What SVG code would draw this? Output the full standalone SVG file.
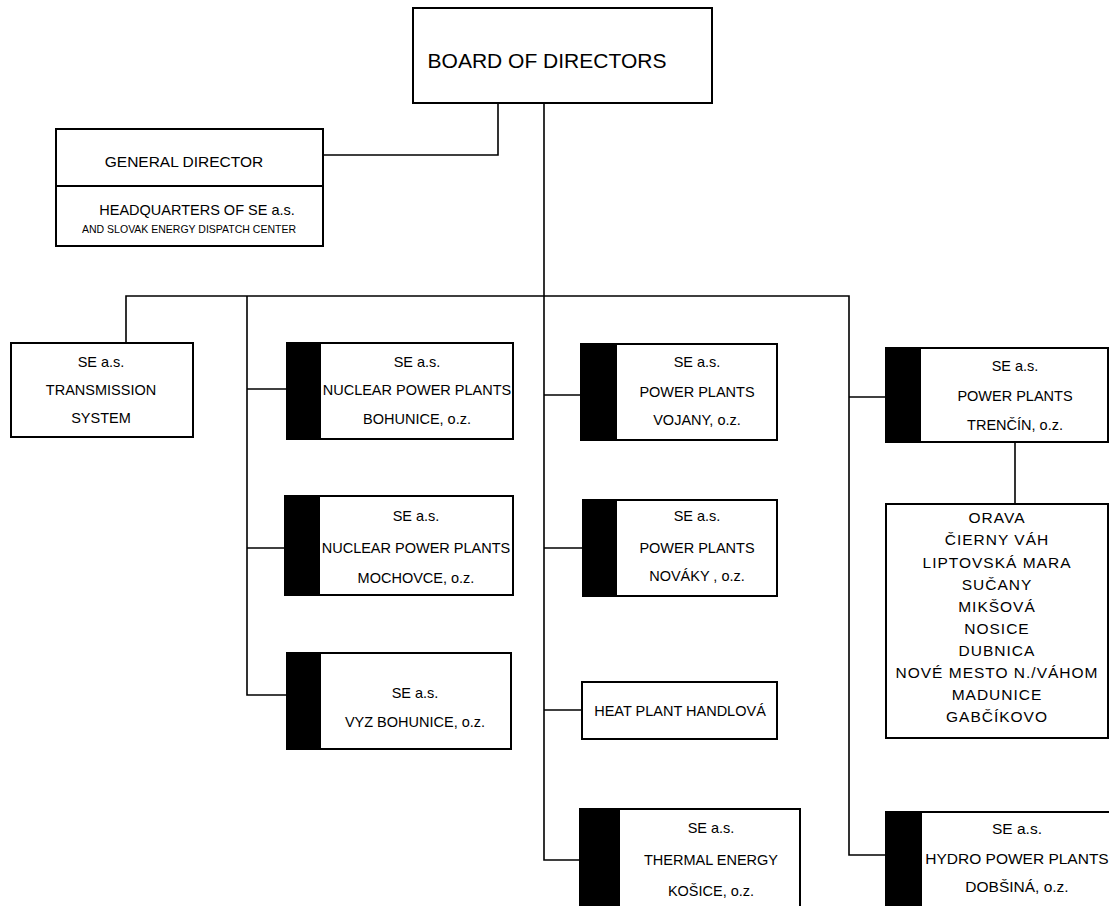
<svg xmlns="http://www.w3.org/2000/svg" width="1109" height="906" viewBox="0 0 1109 906">
<style>
.box{fill:#fff;stroke:#000;stroke-width:2}
.strip{fill:#000}
.conn{fill:none;stroke:#000;stroke-width:1.6}
text{font-family:"Liberation Sans",Arial,sans-serif;font-size:14.5px;text-anchor:middle;fill:#000}
.big{font-size:21px}
.mid{font-size:15.5px}
.small{font-size:10.5px}
.list{font-size:15.5px;letter-spacing:1px}
</style>
<rect width="1109" height="906" fill="#fff"/>
<g id="connectors">
<path class="conn" d="M498,103 V155 H323"/>
<path class="conn" d="M544,103 V860 H580"/>
<path class="conn" d="M126,343 V296 H849 V855 H886"/>
<path class="conn" d="M247,296 V695 H287"/>
<path class="conn" d="M247,389 H287"/>
<path class="conn" d="M247,548 H285"/>
<path class="conn" d="M544,395 H581"/>
<path class="conn" d="M544,548 H583"/>
<path class="conn" d="M544,710 H582"/>
<path class="conn" d="M849,397 H886"/>
<path class="conn" d="M1015,443 V504"/>
</g>
<g id="board">
<rect class="box" x="413" y="8" width="299" height="95"/>
<text class="big" x="547" y="68">BOARD OF DIRECTORS</text>
</g>
<g id="general-director">
<rect class="box" x="56" y="129" width="267" height="117"/>
<line x1="56" y1="186" x2="323" y2="186" stroke="#000" stroke-width="2"/>
<text class="mid" x="184" y="167">GENERAL DIRECTOR</text>
<text x="197" y="215">HEADQUARTERS OF SE a.s.</text>
<text class="small" x="189" y="233">AND SLOVAK ENERGY DISPATCH CENTER</text>
</g>
<g id="transmission">
<rect class="box" x="11" y="343" width="182" height="94"/>
<text x="101" y="367">SE a.s.</text>
<text x="101" y="395">TRANSMISSION</text>
<text x="101" y="423">SYSTEM</text>
</g>
<g id="bohunice">
<rect class="box" x="287" y="343" width="226" height="96"/>
<rect class="strip" x="287" y="343" width="34" height="96"/>
<text x="417" y="367">SE a.s.</text>
<text x="417" y="395">NUCLEAR POWER PLANTS</text>
<text x="417" y="424">BOHUNICE, o.z.</text>
</g>
<g id="mochovce">
<rect class="box" x="285" y="496" width="228" height="99"/>
<rect class="strip" x="285" y="496" width="35" height="99"/>
<text x="416" y="521">SE a.s.</text>
<text x="416" y="553">NUCLEAR POWER PLANTS</text>
<text x="416" y="583">MOCHOVCE, o.z.</text>
</g>
<g id="vyz">
<rect class="box" x="287" y="653" width="224" height="96"/>
<rect class="strip" x="287" y="653" width="34" height="96"/>
<text x="415" y="698">SE a.s.</text>
<text x="415" y="727">VYZ BOHUNICE, o.z.</text>
</g>
<g id="vojany">
<rect class="box" x="581" y="344" width="196" height="96"/>
<rect class="strip" x="581" y="344" width="36" height="96"/>
<text x="697" y="367">SE a.s.</text>
<text x="697" y="397">POWER PLANTS</text>
<text x="697" y="425">VOJANY, o.z.</text>
</g>
<g id="novaky">
<rect class="box" x="583" y="500" width="194" height="96"/>
<rect class="strip" x="583" y="500" width="34" height="96"/>
<text x="697" y="521">SE a.s.</text>
<text x="697" y="553">POWER PLANTS</text>
<text x="697" y="581">NOVÁKY , o.z.</text>
</g>
<g id="handlova">
<rect class="box" x="582" y="682" width="195" height="57"/>
<text x="680" y="716">HEAT PLANT HANDLOVÁ</text>
</g>
<g id="kosice">
<rect class="box" x="580" y="809" width="220" height="105"/>
<rect class="strip" x="580" y="809" width="40" height="105"/>
<text x="711" y="833">SE a.s.</text>
<text x="711" y="865">THERMAL ENERGY</text>
<text x="711" y="896">KOŠICE, o.z.</text>
</g>
<g id="trencin">
<rect class="box" x="886" y="348" width="222" height="94"/>
<rect class="strip" x="886" y="348" width="35" height="94"/>
<text x="1015" y="371">SE a.s.</text>
<text x="1015" y="401">POWER PLANTS</text>
<text x="1015" y="430">TRENČÍN, o.z.</text>
</g>
<g id="hydro-list">
<rect class="box" x="886" y="504" width="222" height="234"/>
<text class="list" x="997" y="523">ORAVA</text>
<text class="list" x="997" y="545">ČIERNY VÁH</text>
<text class="list" x="997" y="568">LIPTOVSKÁ MARA</text>
<text class="list" x="997" y="590">SUČANY</text>
<text class="list" x="997" y="612">MIKŠOVÁ</text>
<text class="list" x="997" y="634">NOSICE</text>
<text class="list" x="997" y="656">DUBNICA</text>
<text class="list" x="997" y="678">NOVÉ MESTO N./VÁHOM</text>
<text class="list" x="997" y="700">MADUNICE</text>
<text class="list" x="997" y="722">GABČÍKOVO</text>
</g>
<g id="dobsina">
<rect class="box" x="886" y="812" width="226" height="102"/>
<rect class="strip" x="886" y="812" width="36" height="102"/>
<text class="mid" x="1017" y="834">SE a.s.</text>
<text class="mid" x="1017" y="864">HYDRO POWER PLANTS</text>
<text class="mid" x="1017" y="892">DOBŠINÁ, o.z.</text>
</g>
</svg>
